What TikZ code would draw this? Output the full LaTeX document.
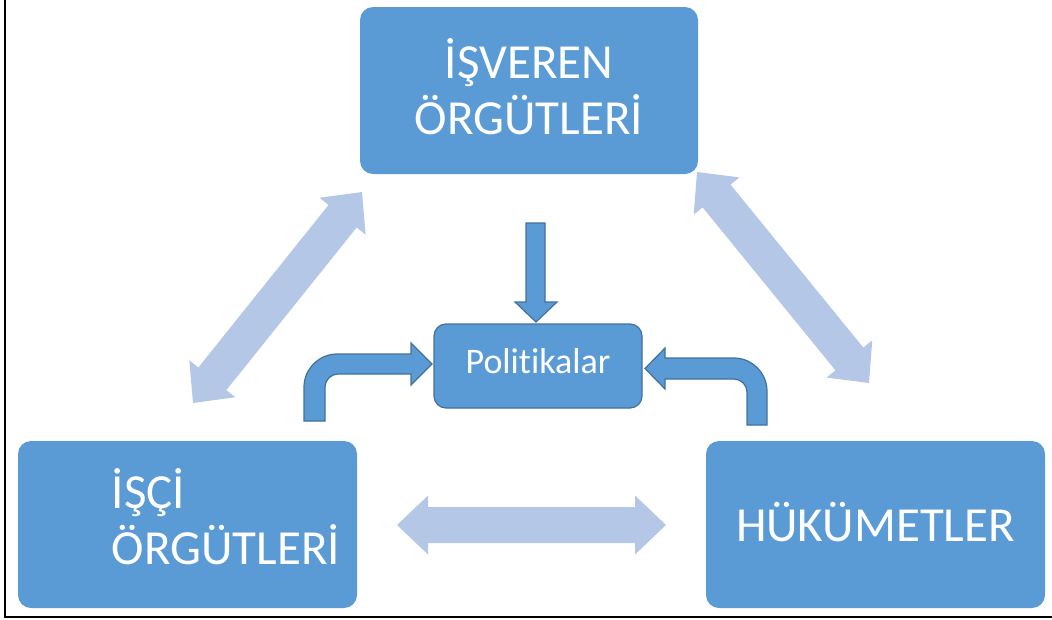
\documentclass[tikz,border=0pt]{standalone}
\usepackage{fontspec}
\newfontfamily\cf[Ligatures={NoCommon,NoRare,NoDiscretionary}]{Carlito}
\usetikzlibrary{calc}
\definecolor{mainblue}{HTML}{5B9BD5}
\definecolor{edgeblue}{HTML}{41719C}
\definecolor{lightblue}{HTML}{B4C7E7}
\tikzset{
  bigbox/.style={fill=mainblue, draw=none, rounded corners=13pt, inner sep=0pt,
    text=white, font=\cf\fontsize{49}{56}\selectfont},
  smallbox/.style={fill=mainblue, draw=edgeblue, line width=1.2pt, rounded corners=12pt,
    inner sep=0pt, text=white, font=\cf\fontsize{36}{40}\selectfont},
  darkarrow/.style={fill=mainblue, draw=edgeblue, line width=1.2pt, line join=miter},
  lightarrow/.style={fill=lightblue, draw=none},
  frameline/.style={draw=black, line width=1.5pt}
}
% double block arrow between two named coordinates
\newcommand\dblarrow[2]{%
  \path let \p1=(#1), \p2=(#2), \n1={atan2(\y2-\y1,\x2-\x1)}, \n2={veclen(\x2-\x1,\y2-\y1)} in
    \pgfextra{\xdef\bang{\n1}\xdef\blen{\n2}};
  \fill[lightarrow, shift={(#1)}, rotate=\bang]
    (0,0) -- (31,29.5) -- (31,18) -- (\blen-31,18) -- (\blen-31,29.5) -- (\blen,0)
    -- (\blen-31,-29.5) -- (\blen-31,-18) -- (31,-18) -- (31,-29.5) -- cycle;
}
\begin{document}
\begin{tikzpicture}[x=1pt,y=-1pt]
\useasboundingbox (0,0) rectangle (1052,619);
% frame
\draw[frameline] (5,0) -- (5,617) -- (1052,617);

% boxes
\node[bigbox, minimum width=338pt, minimum height=167pt, align=center, text depth=8pt] (emp) at (529,90.5) {İŞVEREN\\ÖRGÜTLERİ};
\node[bigbox, minimum width=339pt, minimum height=167pt] (wrk) at (187.5,524.5) {};
\node[bigbox, align=left, anchor=center, fill=none, text depth=8pt] (wrkt) at (226,521) {İŞÇİ\\ÖRGÜTLERİ};
\node[bigbox, minimum width=339pt, minimum height=167pt, text depth=6pt] (gov) at (875.5,524.5) {HÜKÜMETLER};
\node[smallbox, minimum width=208pt, minimum height=84pt, text depth=11pt] (pol) at (538,366) {Politikalar};

% light double arrows
\coordinate (a1) at (193,403);
\coordinate (a2) at (362,192);
\coordinate (b1) at (697,172);
\coordinate (b2) at (869,383);
\coordinate (c1) at (397,525);
\coordinate (c2) at (666,525);
\dblarrow{a1}{a2}
\dblarrow{b1}{b2}
\dblarrow{c1}{c2}

% down arrow into Politikalar
\draw[darkarrow] (526,223) -- (545,223) -- (545,302) -- (557,302) -- (536,322)
  -- (515,302) -- (526,302) -- cycle;

% left bent arrow
\draw[darkarrow] (304,421) -- (304,387) .. controls (304,369) and (319,354) .. (337,354)
  -- (411,354) -- (411,343) -- (432,364) -- (411,385) -- (411,374) -- (338,374)
  .. controls (331,374) and (325,380) .. (325,387) -- (325,421) -- cycle;

% right bent arrow
\draw[darkarrow] (767,425) -- (767,391) .. controls (767,373) and (752,358) .. (734,358)
  -- (665,358) -- (665,348) -- (645,368.5) -- (665,389) -- (665,379) -- (734,379)
  .. controls (741,379) and (747,385) .. (747,392) -- (747,425) -- cycle;
\end{tikzpicture}
\end{document}
